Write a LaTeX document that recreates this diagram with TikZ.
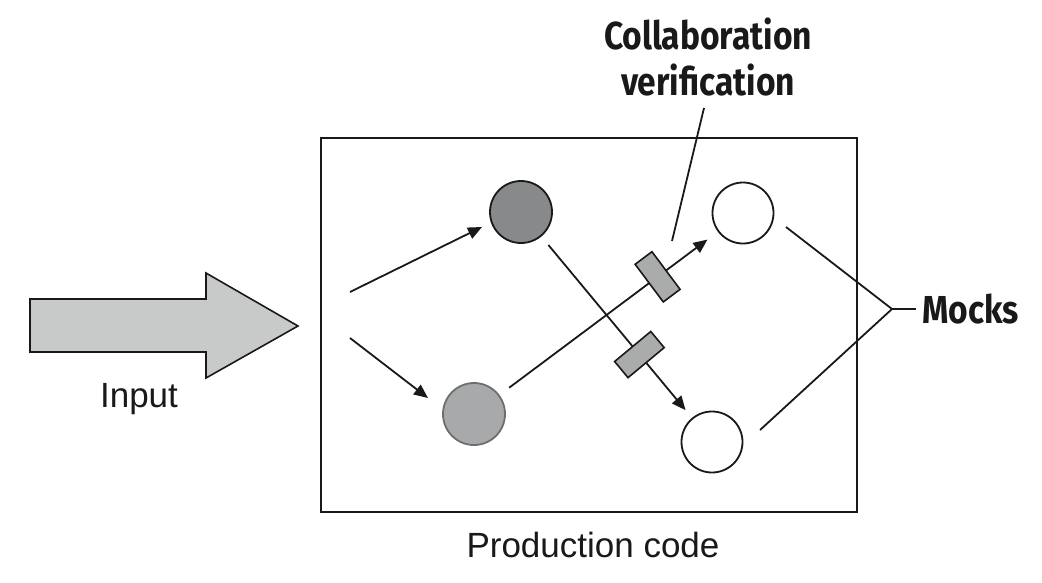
\documentclass[tikz,border=0pt]{standalone}
\usepackage{fontspec}
\setmainfont{Liberation Sans}
\newfontfamily\boldlab[FakeStretch=0.86]{Fira Sans}
\usetikzlibrary{arrows.meta}
\definecolor{darkdot}{RGB}{136,137,139}
\definecolor{lightdot}{RGB}{167,169,171}
\definecolor{lightedge}{RGB}{110,110,110}
\definecolor{tagfill}{RGB}{170,172,172}
\definecolor{bigarrow}{RGB}{200,201,201}
\tikzset{
  lw/.style={line width=1.8pt},
  dot/.style={circle, minimum size=62pt, inner sep=0pt, lw},
  conn/.style={lw, draw=black!90},
  tip/.style={-{Triangle[length=14pt,width=12pt]}},
  tag/.style={draw=black!90, fill=tagfill, line width=1.6pt, minimum width=21pt, minimum height=47pt, inner sep=0pt, sloped},
  plain/.style={font=\fontsize{35}{40}\selectfont, text=black!90},
  boldtxt/.style={font=\boldlab\bfseries\fontsize{39}{46}\selectfont, text=black!90},
}
\begin{document}
\begin{tikzpicture}[x=1pt,y=-1pt]
\useasboundingbox (0,0) rectangle (1042,582);
% big input arrow
\draw[line width=1.6pt, fill=bigarrow, draw=black!90]
  (30,299) -- (206,299) -- (206,273) -- (298,326) -- (206,378) -- (206,352) -- (30,352) -- cycle;
\node[plain, anchor=base] (input) at (139,407) {Input};
% production code box
\node[draw=black!90, lw, minimum width=536pt, minimum height=374pt, inner sep=0pt] (box) at (589,325) {};
\node[plain, anchor=base] (prod) at (593,557) {Production code};
% circles
\node[dot, draw=black!90, fill=darkdot] (dk) at (521,212) {};
\node[dot, draw=lightedge, fill=lightdot] (lc) at (474,414) {};
\node[dot, draw=black!90, fill=white, minimum size=61pt] (wt) at (743,213) {};
\node[dot, draw=black!90, fill=white, minimum size=61pt] (wb) at (712,442) {};
% input arrows
\coordinate (s1) at (350,292);
\coordinate (e1) at (482,227);
\coordinate (s2) at (350,338);
\coordinate (e2) at (428,398);
\draw[conn, tip] (s1) -- (e1);
\draw[conn, tip] (s2) -- (e2);
% collaborations
\draw[conn, tip, shorten <=12pt, shorten >=13pt] (lc) -- node[tag, pos=0.724] (t1) {} (wt);
\draw[conn, tip, shorten <=11pt, shorten >=10pt] (dk) -- node[tag, pos=0.651] (t2) {} (wb);
% collaboration verification label
\node[boldtxt, align=center, anchor=north, inner sep=0pt] (collab) at (708,18) {Collaboration\\verification};
\coordinate (cv1) at (704,108);
\coordinate (cv2) at (672,241);
\draw[conn] (cv1) -- (cv2);
% mocks
\coordinate (apex) at (892,309);
\coordinate (m1) at (786,227);
\coordinate (m2) at (760,430);
\node[boldtxt, anchor=west, inner sep=0pt] (mocks) at (922,309) {Mocks};
\draw[conn] (m1) -- (apex) -- (m2);
\draw[conn, shorten >=6pt] (apex) -- (mocks.west);
\end{tikzpicture}
\end{document}
